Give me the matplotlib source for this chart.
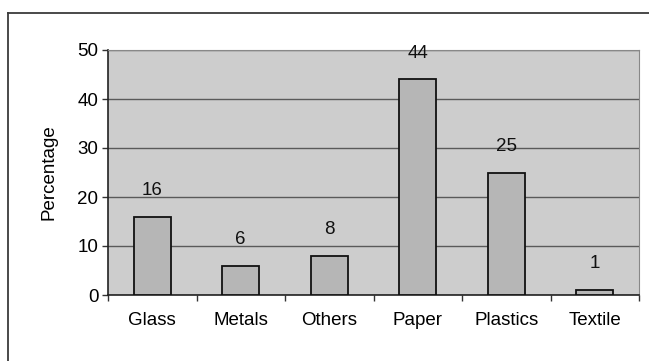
"""Bar chart of waste composition by material."""

import matplotlib.pyplot as plt
from matplotlib.lines import Line2D
import numpy as np

categories = ["Glass", "Metals", "Others", "Paper", "Plastics", "Textile"]
percentages = [16, 6, 8, 44, 25, 1]
y_ticks = [0, 10, 20, 30, 40, 50]

plt.rcParams["font.family"] = ["Liberation Sans", "DejaVu Sans"]
FS = 13.5

W, H = 649, 361
fig = plt.figure(figsize=(W / 100, H / 100), dpi=100)
fig.patch.set_facecolor("white")

# outer chart frame: only the top and left edges are on the canvas
fx, fy = 8 / W, 1 - 13 / H
fig.add_artist(Line2D([fx, 1.0], [fy, fy], transform=fig.transFigure,
                      color="#3a3a3a", linewidth=1.3))
fig.add_artist(Line2D([fx, fx], [0, fy], transform=fig.transFigure,
                      color="#3a3a3a", linewidth=1.3))

left, right, top, bottom = 108, 639, 50, 295
ax = fig.add_axes([left / W, 1 - bottom / H, (right - left) / W, (bottom - top) / H])
ax.set_facecolor("#cdcdcd")

x = np.arange(len(categories))
ax.bar(x, percentages, width=0.42, color="#b6b6b6", edgecolor="#111111",
       linewidth=1.3, zorder=3)
for xi, v in zip(x, percentages):
    ax.annotate(str(v), (xi, v), xytext=(0, 19), textcoords="offset points",
                ha="center", va="center", fontsize=FS, color="#111111", zorder=4)

ax.set_xlim(-0.5, len(categories) - 0.5)
ax.set_ylim(0, 50)
ax.set_yticks(y_ticks)
ax.yaxis.grid(True, color="#5a5a5a", linewidth=1.0, zorder=1)

ax.set_xticks(x)
ax.set_xticklabels(categories, fontsize=FS)
ax.set_xticks(np.arange(len(categories) + 1) - 0.5, minor=True)
ax.tick_params(axis="x", which="major", length=0, pad=12)
ax.tick_params(axis="x", which="minor", length=4, width=1, color="#333333")
ax.tick_params(axis="y", length=4, width=1, labelsize=FS, pad=3, color="#333333")
ax.set_ylabel("Percentage", fontsize=FS, labelpad=14)

for side in ["top", "right"]:
    ax.spines[side].set_color("#888888")
    ax.spines[side].set_linewidth(0.8)
for side in ["left", "bottom"]:
    ax.spines[side].set_color("#222222")
    ax.spines[side].set_linewidth(1.2)

fig.savefig("out.png", dpi=100)
